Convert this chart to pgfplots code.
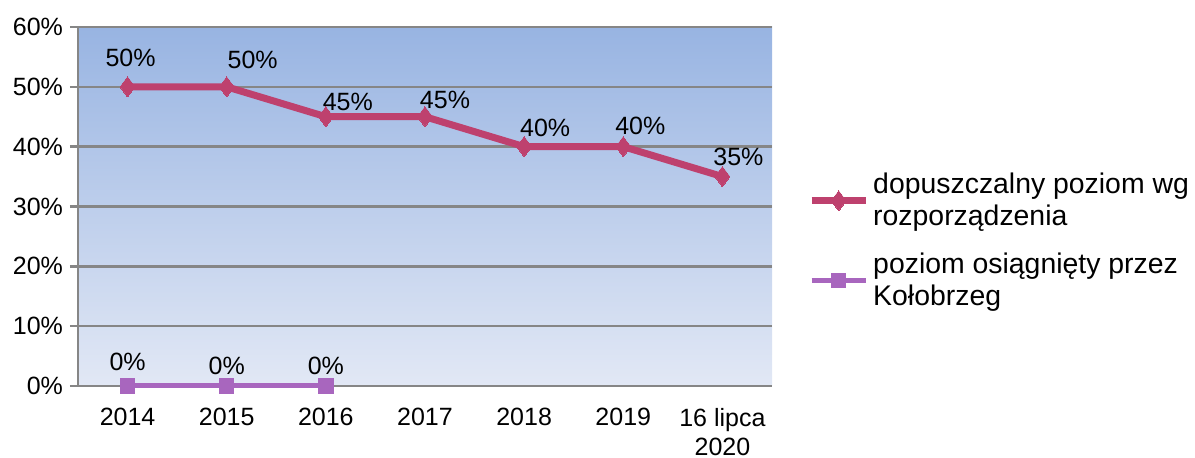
\documentclass[border=0pt]{standalone}
\usepackage{pgfplots}
\usepackage{pgfplotstable}
\pgfplotsset{compat=1.18}
\usepackage{fontspec}
\setmainfont{Liberation Sans}

\definecolor{dopcol}{RGB}{190,65,110}
\definecolor{kolcol}{RGB}{168,102,190}
\definecolor{bgtop}{RGB}{152,180,226}
\definecolor{bgbot}{RGB}{226,232,245}
\definecolor{axgray}{RGB}{134,134,134}

% x = category index, y = value in %, dx/dy = label offset in pt
\pgfplotstableread{
x y dx dy
0 50 1.5 14.5
1 50 13 13.5
2 45 11 7.5
3 45 10 8.5
4 40 10.5 9.5
5 40 8.5 10.5
6 35 8 10
}\dopuszczalny

\pgfplotstableread{
x y dx dy
0 0 0 12
1 0 0 10
2 0 0 10
}\kolobrzeg

\begin{document}
\begin{tikzpicture}
\path[use as bounding box] (-39pt,-36pt) rectangle (558.5pt,193pt);
\begin{axis}[
    at={(0,0)}, anchor=south west,
    scale only axis,
    width=347pt, height=179.5pt,
    font=\fontsize{12.5}{15}\selectfont,
    xmin=-0.5, xmax=6.5,
    ymin=0, ymax=60,
    xtick={0,...,6},
    xticklabels={2014,2015,2016,2017,2018,2019,{16 lipca\\2020}},
    xticklabel style={align=center, yshift=-3.5pt, font=\fontsize{12.5}{14.5}\selectfont},
    minor xtick={-0.5,0.5,...,6.5},
    ytick={0,10,...,60},
    yticklabel={\pgfmathprintnumber{\tick}\%},
    /pgf/number format/assume math mode=true,
    axis x line*=bottom, axis y line*=left,
    axis line style={axgray, line width=1.2pt},
    ymajorgrids,
    grid style={axgray, line width=1.2pt},
    tick align=outside,
    major tick length=4pt, minor tick length=5pt,
    xtick style={draw=none},
    minor x tick style={axgray, line width=1.2pt},
    ytick style={axgray, line width=1.2pt},
    axis background/.style={shade, top color=bgtop, bottom color=bgbot},
    legend style={at={(rel axis cs:1.043,0.405)}, anchor=west, draw=none, fill=none,
        font=\fontsize{14.2}{16}\selectfont, row sep=8pt,
        cells={anchor=west, align=left}},
    legend image code/.code={
        \draw[mark repeat=2, mark phase=2, #1] plot coordinates {(0pt,0pt) (13.5pt,0pt) (27pt,0pt)};
    },
    nodes near coords={\pgfmathprintnumber{\pgfplotspointmeta}\%},
    nodes near coords style={anchor=center, xshift=\dx pt, yshift=\dy pt, text=black},
    visualization depends on={\thisrow{dx} \as \dx},
    visualization depends on={\thisrow{dy} \as \dy},
    clip=false,
]
\addplot[dopcol, line width=3.5pt, mark=diamond*, mark size=5pt,
    mark options={solid, line width=0pt}] table[x=x, y=y] {\dopuszczalny};
\addlegendentry{dopuszczalny poziom wg\\rozporządzenia}
\addplot[kolcol, line width=2.5pt, mark=square*, mark size=3.6pt,
    mark options={solid, line width=0pt}] table[x=x, y=y] {\kolobrzeg};
\addlegendentry{poziom osiągnięty przez\\Kołobrzeg}
\end{axis}
\end{tikzpicture}
\end{document}
